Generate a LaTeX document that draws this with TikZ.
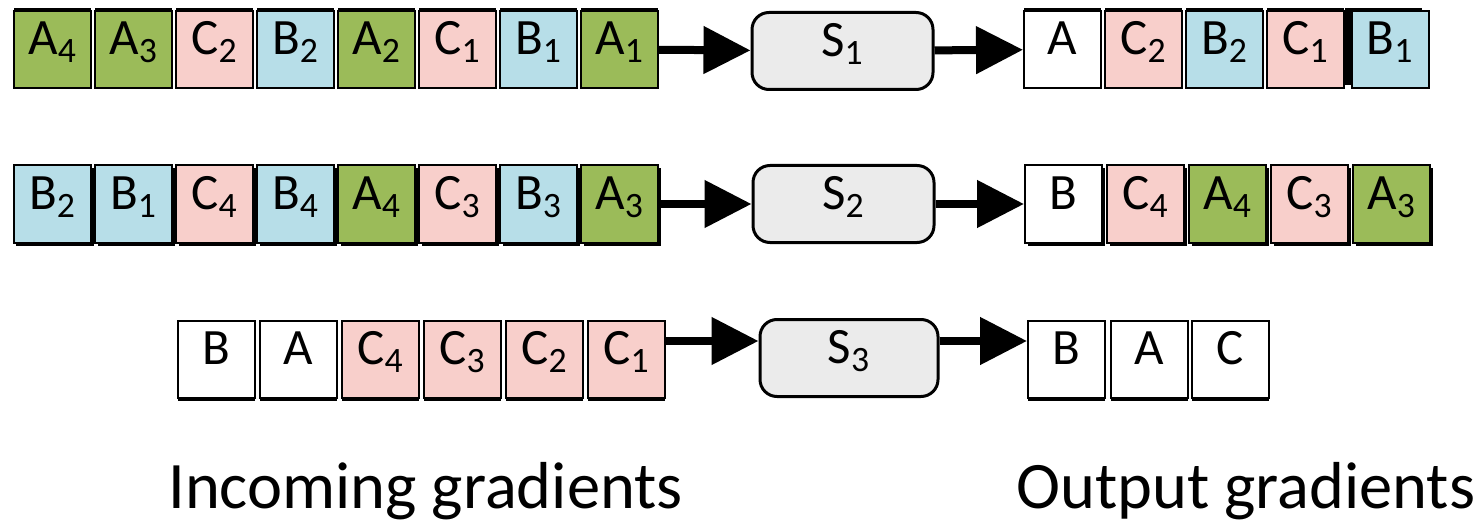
\documentclass[tikz,border=0pt]{standalone}
\usepackage{fontspec}
\setmainfont{Carlito}
\usepackage{tikz}
\usetikzlibrary{arrows.meta,shadows}

\definecolor{agreen}{HTML}{9BBB59}
\definecolor{bblue}{HTML}{B7DEE8}
\definecolor{cpink}{HTML}{F8CFCB}
\definecolor{stagegray}{HTML}{EBEBEB}

\begin{document}
\begin{tikzpicture}[x=0.2mm,y=-0.2mm,
    grad/.style={draw,line width=0.4mm,minimum width=15.4mm,minimum height=15.4mm,
        inner sep=0pt,font=\fontsize{29}{34}\selectfont,text height=0.65em,text depth=0.04em},
    ga/.style={grad,fill=agreen},
    gb/.style={grad,fill=bblue},
    gc/.style={grad,fill=cpink},
    gw/.style={grad,fill=white},
    up/.style={general shadow={fill=black,shadow yshift=0.6mm}},
    dr/.style={general shadow={fill=black,shadow xshift=0.5mm,shadow yshift=-0.6mm}},
    dn/.style={general shadow={fill=black,shadow yshift=-0.6mm}},
    stage/.style={draw,line width=0.6mm,rounded corners=3.4mm,fill=stagegray,
        minimum width=36.2mm,minimum height=15.4mm,inner sep=0pt,
        font=\fontsize{29}{34}\selectfont,text height=0.65em,text depth=0.04em},
    flow/.style={line width=1.6mm,-{Triangle[length=9.4mm,width=9.2mm]}},
    caption/.style={anchor=base west,inner sep=0pt,font=\fontsize{37.8}{44}\selectfont}]
    \useasboundingbox (0,0) rectangle (1483,522);

    % first stage
    \node[ga,up] (in11) at (52.5,49.5) {A\textsubscript{4}};
    \node[ga,up] (in12) at (133.5,49.5) {A\textsubscript{3}};
    \node[gc,up] (in13) at (214.5,49.5) {C\textsubscript{2}};
    \node[gb,up] (in14) at (295.5,49.5) {B\textsubscript{2}};
    \node[ga,up] (in15) at (376.5,49.5) {A\textsubscript{2}};
    \node[gc,up] (in16) at (457.5,49.5) {C\textsubscript{1}};
    \node[gb,up] (in17) at (538.5,49.5) {B\textsubscript{1}};
    \node[ga,up] (in18) at (619.5,49.5) {A\textsubscript{1}};
    \node[stage] (s1) at (842.5,51) {S\textsubscript{1}};
    \node[gw,up] (out11) at (1062.5,49.5) {A};
    \node[gc,up] (out12) at (1143.5,49.5) {C\textsubscript{2}};
    \node[gb,up] (out13) at (1224.5,49.5) {B\textsubscript{2}};
    \node[gc,up] (out14) at (1305.5,49.5) {C\textsubscript{1}};
    \node[gb,general shadow={fill=black,shadow xshift=-1.4mm,shadow yshift=0.6mm}]
        (out15) at (1390,49.5) {B\textsubscript{1}};
    \draw[flow] (in18) -- (s1);
    \draw[flow] (s1) -- (out11);

    % second stage
    \node[gb,dr] (in21) at (52.5,204) {B\textsubscript{2}};
    \node[gb,dr] (in22) at (133.5,204) {B\textsubscript{1}};
    \node[gc,dr] (in23) at (214.5,204) {C\textsubscript{4}};
    \node[gb,dr] (in24) at (295.5,204) {B\textsubscript{4}};
    \node[ga,dr] (in25) at (376.5,204) {A\textsubscript{4}};
    \node[gc,dr] (in26) at (457.5,204) {C\textsubscript{3}};
    \node[gb,dr] (in27) at (538.5,204) {B\textsubscript{3}};
    \node[ga,dr] (in28) at (619.5,204) {A\textsubscript{3}};
    \node[stage] (s2) at (843.5,204) {S\textsubscript{2}};
    \node[gw,dr] (out21) at (1063.5,204) {B};
    \node[gc,dr] (out22) at (1145.5,204) {C\textsubscript{4}};
    \node[ga,dr] (out23) at (1227.5,204) {A\textsubscript{4}};
    \node[gc,dr] (out24) at (1309.5,204) {C\textsubscript{3}};
    \node[ga,dr] (out25) at (1391.5,204) {A\textsubscript{3}};
    \draw[flow] (in28) -- (s2);
    \draw[flow] (s2) -- (out21);

    % third stage, arrows sit a bit above the middle
    \node[gw,dn] (in31) at (216.5,359.5) {B};
    \node[gw,dn] (in32) at (298.5,359.5) {A};
    \node[gc,dn] (in33) at (380.5,359.5) {C\textsubscript{4}};
    \node[gc,dn] (in34) at (462.5,359.5) {C\textsubscript{3}};
    \node[gc,dn] (in35) at (544.5,359.5) {C\textsubscript{2}};
    \node[gc,dn] (in36) at (626.5,359.5) {C\textsubscript{1}};
    \node[stage,minimum width=35.6mm] (s3) at (849,358) {S\textsubscript{3}};
    \node[gw,dn] (out31) at (1066.5,359.5) {B};
    \node[gw,dn] (out32) at (1149,359.5) {A};
    \node[gw,dn] (out33) at (1230.5,359.5) {C};
    \coordinate (r3) at (0,341);
    \draw[flow] (in36.east |- r3) -- (s3.west |- r3);
    \draw[flow] (s3.east |- r3) -- (out31.west |- r3);

    \node[caption] (incoming) at (168,508) {Incoming gradients};
    \node[caption] (outgoing) at (1016,508) {Output gradients};
\end{tikzpicture}
\end{document}
